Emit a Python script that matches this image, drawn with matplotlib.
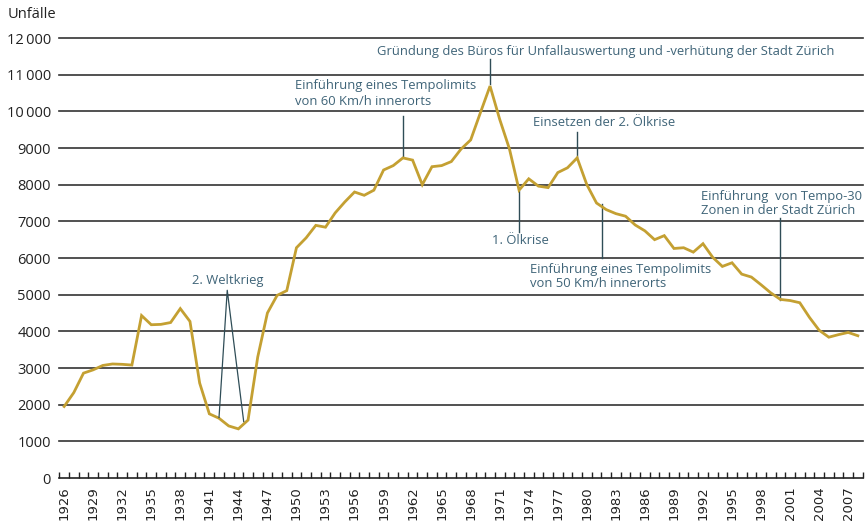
import matplotlib
matplotlib.use("Agg")
import matplotlib.pyplot as plt
from matplotlib.ticker import FixedLocator

plt.rcParams['font.family'] = ['Open Sans', 'DejaVu Sans']

years = list(range(1926, 2009))
accidents = [
    1950, 2330, 2860, 2950, 3070, 3110, 3100, 3080, 4430, 4180,
    4190, 4240, 4620, 4270, 2590, 1750, 1630, 1420, 1340, 1580,
    3300, 4500, 4980, 5110, 6280, 6550, 6890, 6840, 7230, 7530,
    7800, 7710, 7850, 8400, 8520, 8730, 8670, 8000, 8490, 8520,
    8630, 8970, 9220, 9960, 10690, 9780, 8980, 7850, 8160, 7960,
    7920, 8330, 8460, 8730, 8000, 7500, 7320, 7210, 7140, 6900,
    6740, 6500, 6610, 6260, 6280, 6160, 6390, 6020, 5770, 5870,
    5560, 5480, 5270, 5050, 4870, 4840, 4780, 4380, 4030, 3840,
    3910, 3970, 3880,
]
label_years = list(range(1926, 2009, 3))
y_ticks = list(range(0, 13000, 1000))
y_labels = ['0', '1000', '2000', '3000', '4000', '5000', '6000', '7000',
            '8000', '9000', '10\u2009000', '11\u2009000', '12\u2009000']
y_title = 'Unfälle'

ann_ww2 = '2. Weltkrieg'
ann_60 = ['Einführung eines Tempolimits', 'von 60 Km/h innerorts']
ann_buero = 'Gründung des Büros für Unfallauswertung und -verhütung der Stadt Zürich'
ann_oil2 = 'Einsetzen der 2. Ölkrise'
ann_oil1 = '1. Ölkrise'
ann_50 = ['Einführung eines Tempolimits', 'von 50 Km/h innerorts']
ann_30 = ['Einführung  von Tempo-30', 'Zonen in der Stadt Zürich']

LINE_C = '#c4a032'
TEXT_C = '#3f6478'
CALL_C = '#2f4d57'
FS = 9.35

fig = plt.figure(figsize=(8.65, 5.25), dpi=100)
ax = fig.add_axes([59.3 / 865, 1 - 478 / 525, (862.7 - 59.3) / 865, (478 - 38) / 525])
ax.set_xlim(1925.5, 2008.5)
ax.set_ylim(0, 12000)

for v in y_ticks[1:]:
    ax.axhline(v, color='#333333', lw=1.2, zorder=1, clip_on=False)

ax.plot(years, accidents, color=LINE_C, lw=2.0, zorder=3, solid_joinstyle='miter')

for s in ['left', 'right', 'top']:
    ax.spines[s].set_visible(False)
ax.spines['bottom'].set_color('#222222')
ax.spines['bottom'].set_linewidth(1.2)

ax.set_yticks(y_ticks)
ax.set_yticklabels(y_labels, fontsize=10.5, color='#222222')
ax.tick_params(axis='y', length=0, pad=6)

ax.xaxis.set_major_locator(FixedLocator(label_years))
ax.set_xticklabels([str(y) for y in label_years], rotation=90, fontsize=9.5,
                   family='DejaVu Sans', color='#222222')
ax.xaxis.set_minor_locator(FixedLocator([y - 0.5 for y in years] + [years[-1] + 0.5]))
ax.tick_params(axis='x', which='major', length=0, pad=6)
ax.tick_params(axis='x', which='minor', direction='in', length=4.5, width=1.0, color='#222222')

fig.text(8 / 865, 1 - 14 / 525, y_title, fontsize=10.5, color='#222222', va='center', ha='left')

def vline(x, y0, y1):
    ax.plot([x, x], [y0, y1], color=CALL_C, lw=1.0, zorder=2)

# 2. Weltkrieg
ax.plot([1942.0, 1942.85, 1944.55], [1650, 5120, 1540], color=CALL_C, lw=0.9, zorder=4)
ax.text(1942.9, 5380, ann_ww2, ha='center', va='center', fontsize=FS, color=TEXT_C)

# 60 km/h
vline(1961, 8760, 9870)
ax.text(1949.85, 10710, ann_60[0], ha='left', va='center', fontsize=FS, color=TEXT_C)
ax.text(1949.85, 10280, ann_60[1], ha='left', va='center', fontsize=FS, color=TEXT_C)

# Gründung Büro
vline(1970, 10740, 11420)
ax.text(1981.98, 11640, ann_buero, ha='center', va='center', fontsize=FS, color=TEXT_C)

# 2. Ölkrise
vline(1979, 8760, 9450)
ax.text(1974.4, 9690, ann_oil2, ha='left', va='center', fontsize=FS, color=TEXT_C)

# 1. Ölkrise
vline(1973, 7820, 6720)
ax.text(1973.1, 6475, ann_oil1, ha='center', va='center', fontsize=FS, color=TEXT_C)

# 50 km/h
vline(1981.53, 7460, 6000)
ax.text(1974.1, 5680, ann_50[0], ha='left', va='center', fontsize=FS, color=TEXT_C)
ax.text(1974.1, 5300, ann_50[1], ha='left', va='center', fontsize=FS, color=TEXT_C)

# Tempo 30
vline(2000.0, 4860, 7080)
ax.text(1991.75, 7690, ann_30[0], ha='left', va='center', fontsize=FS, color=TEXT_C)
ax.text(1991.75, 7300, ann_30[1], ha='left', va='center', fontsize=FS, color=TEXT_C)

fig.savefig('out.png', dpi=100, facecolor='white')
